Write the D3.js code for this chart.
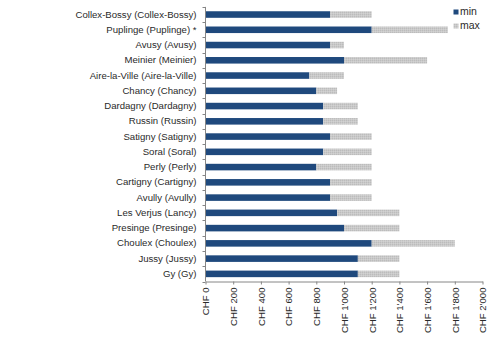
<!DOCTYPE html>
<html>
<head>
<meta charset="utf-8">
<script src="https://cdn.jsdelivr.net/npm/d3@7"></script>
<style>
  html, body { margin: 0; padding: 0; background: #fff; }
  svg { display: block; font-family: "Liberation Sans", Arial, sans-serif; }
</style>
</head>
<body>
<svg id="chart" width="491" height="340"></svg>
<script>
// Commune labels, top to bottom
const categories = [
  "Collex-Bossy (Collex-Bossy)", "Puplinge (Puplinge) *", "Avusy (Avusy)",
  "Meinier (Meinier)", "Aire-la-Ville (Aire-la-Ville)", "Chancy (Chancy)",
  "Dardagny (Dardagny)", "Russin (Russin)", "Satigny (Satigny)", "Soral (Soral)",
  "Perly (Perly)", "Cartigny (Cartigny)", "Avully (Avully)", "Les Verjus (Lancy)",
  "Presinge (Presinge)", "Choulex (Choulex)", "Jussy (Jussy)", "Gy (Gy)"
];
// Lower and upper price bounds (CHF)
const minValues = [900, 1200, 900, 1000, 750, 800, 850, 850, 900, 850, 800, 900, 900, 950, 1000, 1200, 1100, 1100];
const maxValues = [1200, 1750, 1000, 1600, 1000, 950, 1100, 1100, 1200, 1200, 1200, 1200, 1200, 1400, 1400, 1800, 1400, 1400];
const xTicks = [0, 200, 400, 600, 800, 1000, 1200, 1400, 1600, 1800, 2000];
const seriesNames = ["min", "max"];

const rows = categories.map((c, i) => ({ name: c, min: minValues[i], max: maxValues[i] }));

const svg = d3.select("#chart");
const plot = { left: 205.5, right: 482.5, top: 6.9, bottom: 281.5 };
const blue = "#1F497D";
const axisColor = "#868686";
const textColor = "#2a2a2a";

// Speckled grey fill for the upper-range segment
const defs = svg.append("defs");
const pat = defs.append("pattern").attr("id", "greyTex")
  .attr("width", 2).attr("height", 2).attr("patternUnits", "userSpaceOnUse");
pat.append("rect").attr("width", 2).attr("height", 2).attr("fill", "#c9c9c9");
pat.append("rect").attr("x", 0).attr("y", 0).attr("width", 1).attr("height", 1).attr("fill", "#bcbcbc");
pat.append("rect").attr("x", 1).attr("y", 1).attr("width", 1).attr("height", 1).attr("fill", "#d2d2d2");

const x = d3.scaleLinear().domain([0, 2000]).range([plot.left, plot.right]);
const y = d3.scaleBand().domain(categories).range([plot.top, plot.bottom])
  .paddingInner(0.57).paddingOuter(0.285);

const loc = d3.formatLocale({ decimal: ".", thousands: "'", grouping: [3], currency: ["CHF ", ""] });
const fmt = loc.format("$,");

// Bars: min segment from 0, max segment stacked from min to max
const g = svg.append("g");
g.selectAll("rect.min").data(rows).join("rect")
  .attr("class", "min")
  .attr("x", x(0) + 0.5)
  .attr("y", d => y(d.name))
  .attr("width", d => x(d.min) - x(0) - 0.5)
  .attr("height", y.bandwidth())
  .attr("fill", blue);
g.selectAll("rect.max").data(rows).join("rect")
  .attr("class", "max")
  .attr("x", d => x(d.min))
  .attr("y", d => y(d.name))
  .attr("width", d => x(d.max) - x(d.min))
  .attr("height", y.bandwidth())
  .attr("fill", "url(#greyTex)");

// Category axis
const yAxis = svg.append("g").attr("transform", `translate(${plot.left},0)`)
  .call(d3.axisLeft(y).tickSize(0).tickPadding(9));
yAxis.select(".domain").attr("stroke", axisColor).attr("d", `M0,${plot.top}V${plot.bottom}`);
yAxis.selectAll("text").attr("font-size", "9.6px").attr("fill", textColor)
  .attr("font-family", "'Liberation Sans', Arial, sans-serif");

// Tick marks on category boundaries
const gap = (y.step() - y.bandwidth()) / 2;
const bounds = categories.map(c => y(c) - gap).concat([y(categories[categories.length - 1]) + y.bandwidth() + gap]);
yAxis.selectAll("line.bound").data(bounds).join("line")
  .attr("class", "bound")
  .attr("x1", -3).attr("x2", 0)
  .attr("y1", d => Math.round(d) + 0.5).attr("y2", d => Math.round(d) + 0.5)
  .attr("stroke", axisColor);

// Value axis
const xAxis = svg.append("g").attr("transform", `translate(0,${plot.bottom})`)
  .call(d3.axisBottom(x).tickValues(xTicks).tickFormat(fmt).tickSize(3).tickSizeOuter(0));
xAxis.select(".domain").attr("stroke", axisColor);
xAxis.selectAll(".tick line").attr("stroke", axisColor);
xAxis.selectAll("text")
  .attr("font-size", "9.6px").attr("fill", textColor)
  .attr("font-family", "'Liberation Sans', Arial, sans-serif")
  .attr("transform", "rotate(-90)")
  .attr("x", -6).attr("y", 0).attr("dy", "0.35em")
  .style("text-anchor", "end");

// Legend
const legend = svg.append("g");
const legFill = [blue, "url(#greyTex)"];
seriesNames.forEach((s, i) => {
  const ly = 9.5 + i * 14;
  legend.append("rect").attr("x", 453.5).attr("y", ly).attr("width", 5).attr("height", 5).attr("fill", legFill[i]);
  legend.append("text").attr("x", 460).attr("y", ly + 5.5)
    .attr("font-size", "10.5px").attr("fill", textColor).text(s);
});
</script>
</body>
</html>
